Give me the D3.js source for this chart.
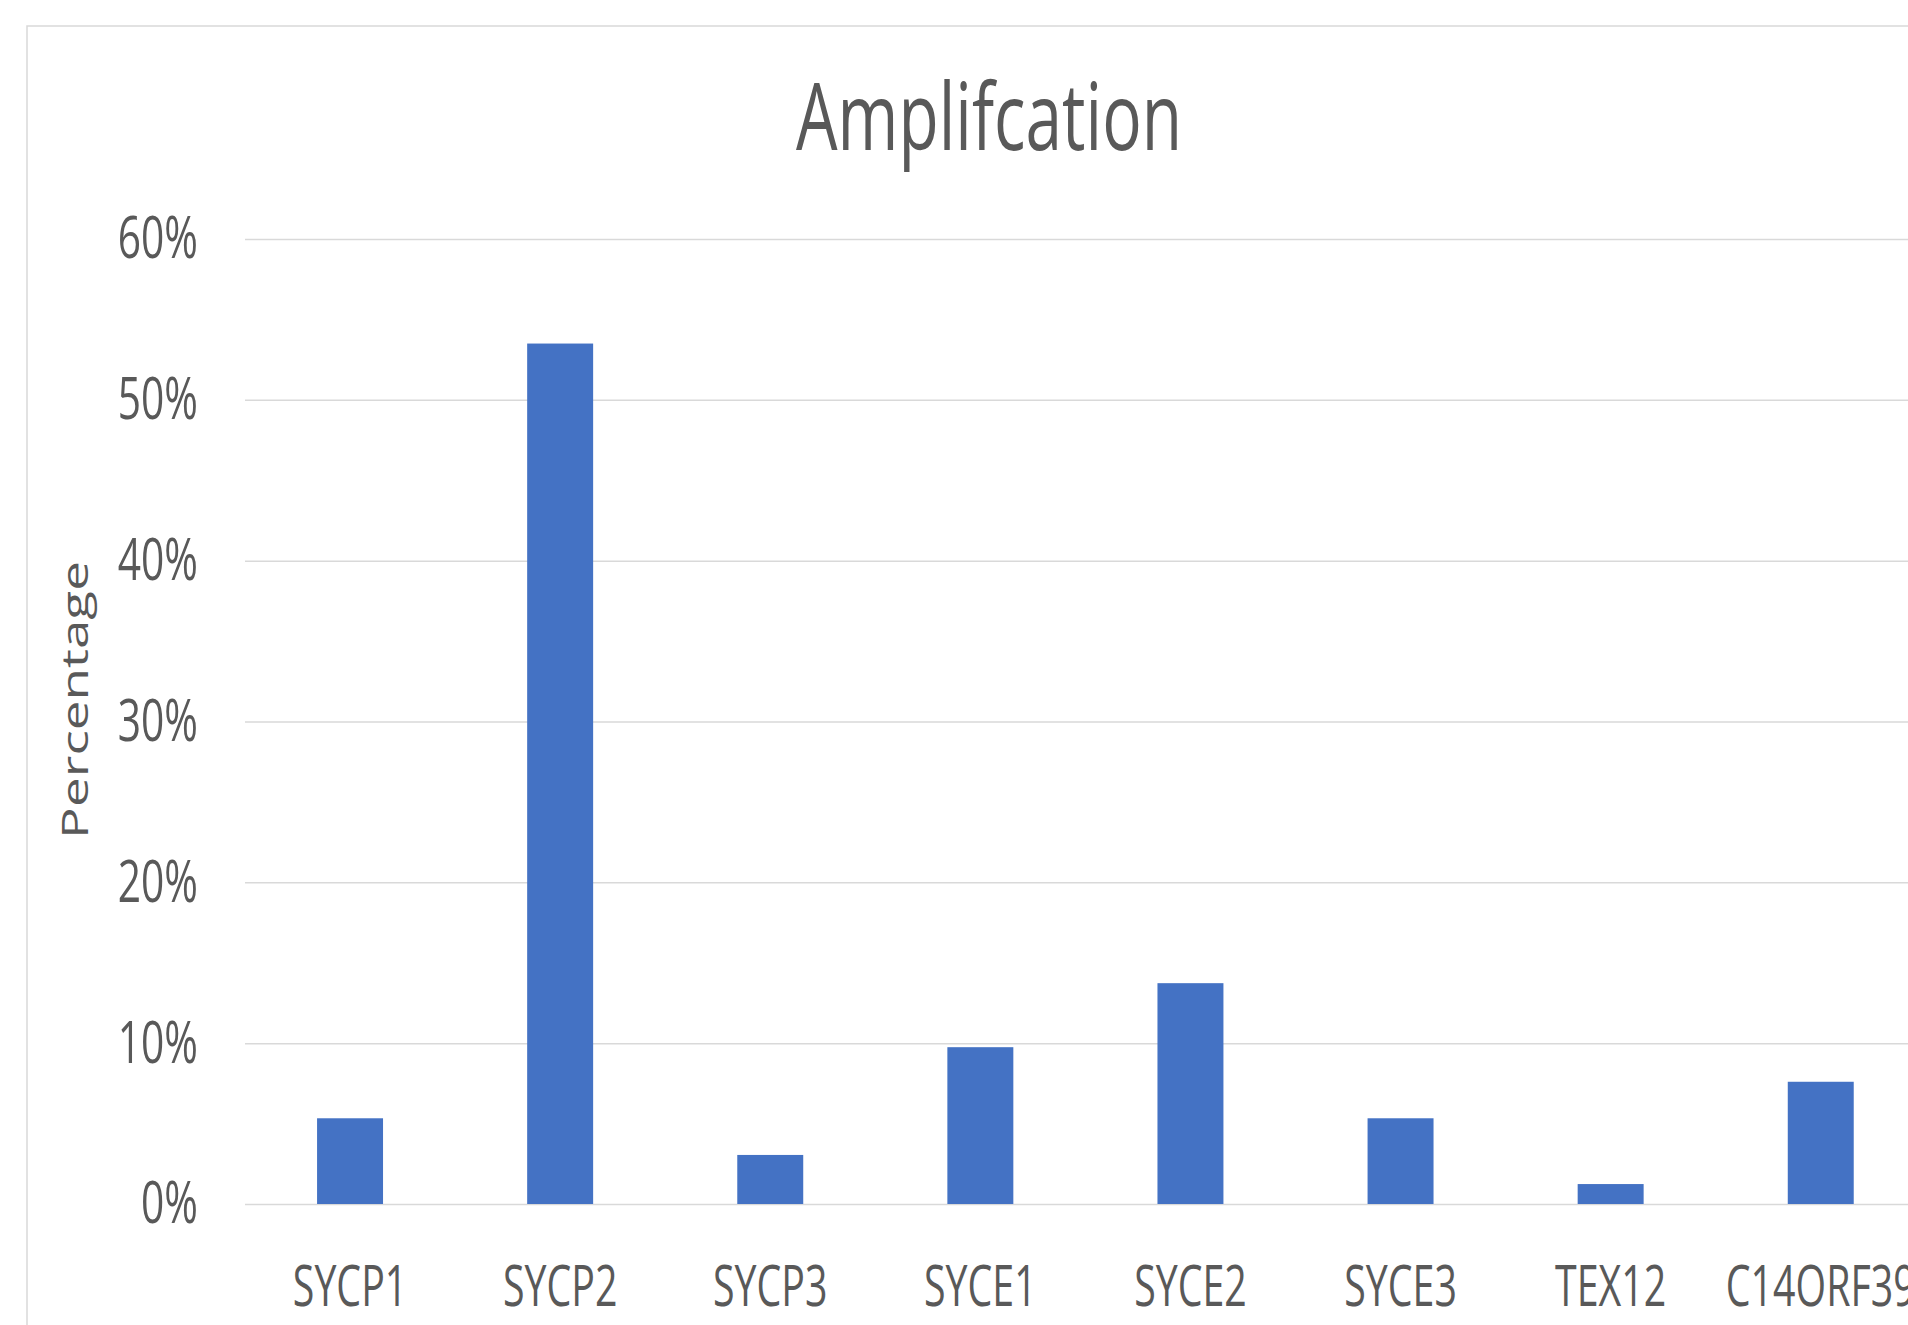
<!DOCTYPE html>
<html>
<head>
<meta charset="utf-8">
<title>Amplifcation</title>
<script src="https://cdn.jsdelivr.net/npm/d3@7"></script>
<style>
    html, body { margin: 0; padding: 0; background: #ffffff; }
    svg { display: block; }
    text { font-family: "Open Sans", "Noto Sans", sans-serif; fill: #595959; }
</style>
</head>
<body>
<div id="amplification-barplot"></div>
<script>
// chart data
var vGenes = ["SYCP1", "SYCP2", "SYCP3", "SYCE1", "SYCE2", "SYCE3", "TEX12", "C14ORF39"];
var vAmplification = [0.0533, 0.535, 0.0305, 0.0975, 0.1373, 0.0533, 0.0124, 0.076];
var vTickValues = [0, 0.1, 0.2, 0.3, 0.4, 0.5, 0.6];

(function () {
    "use strict";

    // the source picture is squeezed sideways, so text gets the same squeeze
    var cSqueeze = 0.69;

    var vWidth = 1908, vHeight = 1325;
    var vPlot = { mLeft: 245, mTop: 239, mBottom: 1204, mStep: 210.1 };

    var svg = d3.select("#amplification-barplot")
        .append("svg")
        .attr("width", vWidth)
        .attr("height", vHeight);

    svg.append("rect")
        .attr("width", vWidth)
        .attr("height", vHeight)
        .attr("fill", "#ffffff");

    // chart frame, runs off the right and bottom edge
    svg.append("rect")
        .attr("x", 27)
        .attr("y", 26)
        .attr("width", vWidth)
        .attr("height", vHeight)
        .attr("fill", "none")
        .attr("stroke", "#d9d9d9")
        .attr("stroke-width", 1.5);

    // scales
    var vXAxis = d3.scaleBand()
        .domain(vGenes)
        .range([vPlot.mLeft, vPlot.mLeft + vPlot.mStep * vGenes.length])
        .paddingInner(0.686)
        .paddingOuter(0.343);

    var vYAxis = d3.scaleLinear()
        .domain([0, 0.6])
        .range([vPlot.mBottom, vPlot.mTop]);

    // gridlines + percent labels
    svg.append("g")
        .attr("transform", "translate(" + vPlot.mLeft + ",0)")
        .call(d3.axisLeft(vYAxis)
            .tickValues(vTickValues)
            .tickFormat(d3.format(".0%"))
            .tickSize(-(vWidth - vPlot.mLeft))
            .tickPadding(47))
        .call(function (g) { g.select(".domain").remove(); })
        .call(function (g) {
            g.selectAll(".tick line")
                .attr("stroke", "#d9d9d9")
                .attr("stroke-width", 1.5);
            g.selectAll(".tick text")
                .attr("x", 0)
                .attr("transform", "translate(-47,0) scale(" + cSqueeze + ",1)")
                .style("font-size", "59px")
                .style("fill", "#595959");
        });

    // bars
    svg.selectAll("rect.bar")
        .data(vAmplification)
        .enter()
        .append("rect")
        .attr("class", "bar")
        .attr("x", function (aItem, i) { return vXAxis(vGenes[i]); })
        .attr("y", function (aItem) { return vYAxis(aItem); })
        .attr("width", vXAxis.bandwidth())
        .attr("height", function (aItem) { return vPlot.mBottom - vYAxis(aItem); })
        .attr("fill", "#4472c4");

    // category labels (kept just inside the bottom edge)
    svg.append("g")
        .attr("transform", "translate(0," + vPlot.mBottom + ")")
        .call(d3.axisBottom(vXAxis).tickSize(0).tickPadding(62))
        .call(function (g) { g.select(".domain").remove(); })
        .call(function (g) {
            g.selectAll(".tick text")
                .attr("transform", "scale(" + cSqueeze + ",1)")
                .style("font-size", "57px")
                .style("fill", "#595959");
        });

    // title
    svg.append("text")
        .attr("transform", "translate(989,150) scale(0.7,1)")
        .attr("text-anchor", "middle")
        .style("font-size", "94px")
        .text("Amplifcation");

    // y axis title
    svg.append("text")
        .attr("transform", "translate(88,700) scale(0.7,1) rotate(-90)")
        .attr("text-anchor", "middle")
        .style("font-size", "53px")
        .text("Percentage");
})();
</script>
</body>
</html>
